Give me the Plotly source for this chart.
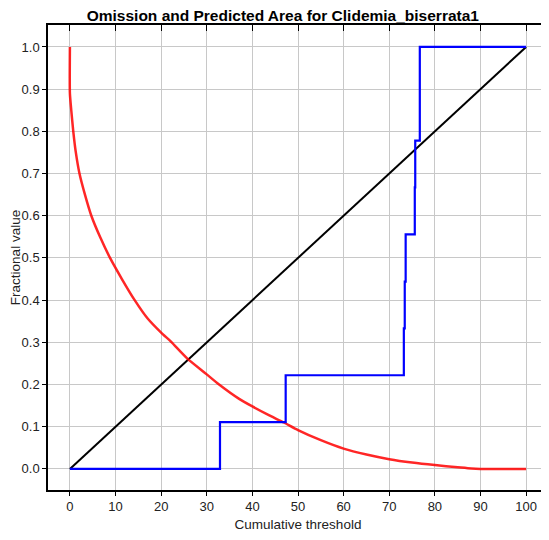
import plotly.graph_objects as go

# Fraction of predicted area (red)
area_x = [0, 0, 0.3, 0.74, 1.3, 2.1, 3.3, 4.7, 6.6, 8.8, 11.4, 14.2, 17.0, 20.0, 22.2, 25.7,
          30.0, 32.7, 37.1, 40.0, 43.5, 46.9, 50.0, 55.0, 60.0, 65.0, 70.0, 75.0, 80.0, 85.0,
          88.0, 90.0, 100.0]
area_y = [1.0, 0.89, 0.85, 0.80, 0.75, 0.70, 0.65, 0.60, 0.55, 0.50, 0.45, 0.40, 0.357, 0.323,
          0.301, 0.262, 0.224, 0.20, 0.166, 0.148, 0.128, 0.110, 0.092, 0.068, 0.048, 0.034,
          0.023, 0.015, 0.009, 0.004, 0.001, 0.0, 0.0]

# Omission on training samples (blue, step)
om_x = [0, 32.9, 47.3, 73.2, 73.4, 73.6, 75.6, 75.7, 76.7, 100]
om_y = [0, 0.111, 0.222, 0.333, 0.444, 0.556, 0.667, 0.778, 1.0, 1.0]

# Predicted omission (black)
pred_x = [0, 100]
pred_y = [0, 1]

x_ticks = [0, 10, 20, 30, 40, 50, 60, 70, 80, 90, 100]
y_ticks = [0.0, 0.1, 0.2, 0.3, 0.4, 0.5, 0.6, 0.7, 0.8, 0.9, 1.0]

XR = [-4.8, 104.8]
YR = [-0.05, 1.052]

fig = go.Figure()
fig.add_trace(go.Scatter(x=pred_x, y=pred_y, mode="lines",
                         line=dict(color="black", width=2), showlegend=False))
fig.add_trace(go.Scatter(x=area_x, y=area_y, mode="lines", line_shape="spline",
                         line=dict(color="rgba(255,0,0,0.85)", width=2.5, smoothing=0.6),
                         showlegend=False))
fig.add_trace(go.Scatter(x=om_x, y=om_y, mode="lines", line_shape="hv",
                         line=dict(color="#0000ff", width=2.2), showlegend=False))
# invisible trace for the mirror (top/right) axes
fig.add_trace(go.Scatter(x=[None], y=[None], xaxis="x2", yaxis="y2", showlegend=False, hoverinfo="skip"))

font = "Liberation Sans, Arial, sans-serif"
# the page body adds an 8px margin, so the figure is laid out 8px smaller
fig.update_layout(
    width=541, height=532,
    margin=dict(l=40, r=1, t=17, b=50, autoexpand=False),
    paper_bgcolor="white", plot_bgcolor="white",
    font=dict(family=font, size=13, color="#222"),
    title=dict(text="<b>Omission and Predicted Area for Clidemia_biserrata1</b>",
               x=0.508, xanchor="center", y=0.985, yanchor="middle",
               font=dict(family=font, size=15.5, color="black")),
    xaxis=dict(range=XR, tickvals=x_ticks, ticktext=[str(v) for v in x_ticks],
               automargin=False,
               showgrid=True, gridcolor="#c8c8c8", gridwidth=1, zeroline=False,
               showline=True, linecolor="black", linewidth=1.5,
               ticks="outside", ticklen=4, tickcolor="black",
               title=dict(text="Cumulative threshold", font=dict(size=13.5), standoff=6)),
    yaxis=dict(range=YR, tickvals=y_ticks, ticktext=[f"{v:.1f}" for v in y_ticks],
               automargin=False,
               showgrid=True, gridcolor="#c8c8c8", gridwidth=1, zeroline=False,
               showline=True, linecolor="black", linewidth=1.5,
               ticks="outside", ticklen=4, tickcolor="black",
               title=dict(text="Fractional value", font=dict(size=13.5), standoff=2)),
    xaxis2=dict(range=XR, tickvals=x_ticks, overlaying="x", side="top", showticklabels=False,
                automargin=False,
                showgrid=False, zeroline=False, showline=True, linecolor="black", linewidth=1.5,
                ticks="inside", ticklen=6, tickcolor="black"),
    yaxis2=dict(range=YR, tickvals=y_ticks, overlaying="y", side="right", showticklabels=False,
                automargin=False,
                showgrid=False, zeroline=False, showline=True, linecolor="black", linewidth=1.5,
                ticks="inside", ticklen=4, tickcolor="black"),
)

fig.write_html("out.html")
